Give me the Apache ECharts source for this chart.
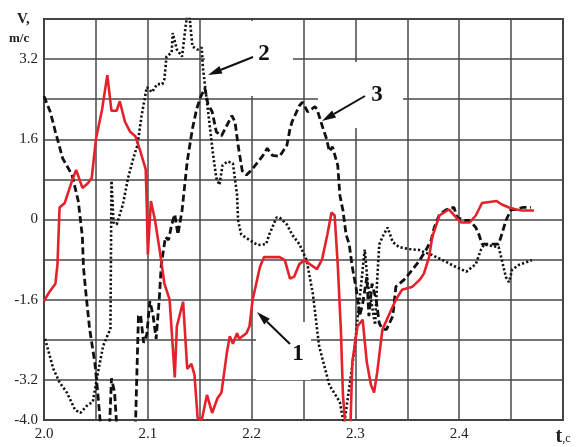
<!DOCTYPE html>
<html><head><meta charset="utf-8">
<script src="https://cdn.jsdelivr.net/npm/echarts@6/dist/echarts.min.js"></script>
<style>html,body{margin:0;padding:0;background:#fff}#c{width:579px;height:447px}</style>
</head><body><div id="c"></div>
<script>
// Curve 1 (red, solid)
const redT = [2.000,2.005,2.011,2.013,2.015,2.020,2.027,2.031,2.037,2.042,2.046,2.050,2.056,2.061,2.065,2.070,2.073,2.078,2.083,2.088,2.092,2.098,2.099,2.100,2.103,2.107,2.112,2.116,2.121,2.126,2.128,2.134,2.138,2.142,2.145,2.148,2.152,2.157,2.162,2.167,2.171,2.176,2.179,2.182,2.186,2.188,2.195,2.198,2.201,2.208,2.212,2.227,2.232,2.237,2.241,2.246,2.251,2.256,2.263,2.268,2.273,2.277,2.280,2.283,2.286,2.288,2.291,2.295,2.297,2.302,2.307,2.311,2.315,2.318,2.321,2.326,2.333,2.339,2.345,2.355,2.362,2.366,2.371,2.374,2.381,2.390,2.397,2.402,2.410,2.416,2.422,2.436,2.441,2.448,2.455,2.461,2.472];
const redV = [-1.63,-1.45,-1.28,-0.89,0.24,0.33,0.77,0.99,0.63,0.72,0.83,1.6,2.2,2.88,2.17,2.17,2.36,1.95,1.75,1.66,1.42,1.0,0.3,-0.7,0.37,-0.02,-0.69,-1.28,-1.6,-3.15,-2.13,-1.64,-2.98,-2.88,-3.1,-3.96,-4.0,-3.5,-3.86,-3.57,-3.45,-2.68,-2.33,-2.48,-2.27,-2.38,-2.27,-2.13,-1.6,-0.95,-0.75,-0.75,-0.81,-1.18,-1.14,-0.89,-0.81,-0.89,-0.99,-0.79,-0.3,0.14,0.08,-0.9,-2.2,-3.5,-4.3,-4.3,-2.85,-2.13,-2.0,-2.85,-3.3,-3.45,-3.05,-2.2,-1.87,-1.6,-1.4,-1.34,-1.2,-1.08,-0.75,-0.35,0.08,0.2,0.04,-0.06,-0.06,0.08,0.33,0.37,0.3,0.24,0.2,0.18,0.18];
// Curve 2 (dotted)
const dotT = [2.001,2.009,2.015,2.022,2.030,2.035,2.042,2.047,2.052,2.057,2.062,2.064,2.065,2.067,2.070,2.076,2.081,2.086,2.090,2.094,2.099,2.104,2.109,2.114,2.116,2.118,2.123,2.124,2.128,2.133,2.136,2.138,2.140,2.143,2.148,2.152,2.153,2.157,2.160,2.163,2.166,2.169,2.172,2.177,2.182,2.186,2.187,2.190,2.198,2.206,2.214,2.217,2.224,2.227,2.234,2.239,2.246,2.253,2.259,2.265,2.275,2.285,2.289,2.294,2.299,2.304,2.309,2.312,2.315,2.319,2.321,2.323,2.326,2.331,2.336,2.342,2.352,2.362,2.366,2.374,2.384,2.397,2.407,2.416,2.421,2.424,2.438,2.441,2.445,2.448,2.451,2.458,2.470];
const dotV = [-2.38,-2.98,-3.25,-3.45,-3.8,-3.86,-3.7,-3.64,-3.05,-2.52,-2.27,-2.2,0.77,-0.06,-0.1,0.3,0.83,1.22,1.48,2.07,2.64,2.54,2.7,2.7,2.8,3.25,3.33,3.72,3.39,3.25,3.78,4.1,4.1,3.45,3.39,3.43,3.05,2.34,1.81,1.28,0.83,0.69,1.08,1.16,1.12,0.49,-0.02,-0.3,-0.41,-0.51,-0.49,-0.3,0.04,0.04,-0.1,-0.3,-0.49,-0.81,-1.48,-2.52,-3.31,-3.64,-4.1,-3.37,-2.6,-1.6,-0.6,-1.3,-1.6,-2.1,-1.2,-0.5,-0.35,-0.16,-0.45,-0.55,-0.59,-0.61,-0.65,-0.71,-0.81,-0.95,-1.04,-0.89,-0.6,-0.5,-0.55,-0.8,-1.15,-1.25,-1.0,-0.9,-0.81];
// Curve 3 (dashed)
const dashT = [2.000,2.006,2.011,2.018,2.027,2.033,2.037,2.038,2.041,2.044,2.049,2.052,2.054,2.058,2.063,2.065,2.068,2.070,2.073,2.079,2.083,2.088,2.091,2.093,2.096,2.099,2.102,2.105,2.108,2.111,2.113,2.117,2.120,2.123,2.126,2.129,2.133,2.138,2.143,2.147,2.151,2.155,2.158,2.162,2.166,2.171,2.176,2.181,2.184,2.187,2.191,2.195,2.200,2.205,2.211,2.215,2.220,2.227,2.234,2.237,2.239,2.246,2.249,2.254,2.261,2.263,2.268,2.272,2.275,2.278,2.283,2.285,2.288,2.291,2.294,2.297,2.301,2.304,2.307,2.311,2.313,2.316,2.320,2.323,2.326,2.330,2.336,2.339,2.347,2.355,2.362,2.368,2.373,2.376,2.381,2.388,2.395,2.398,2.405,2.410,2.416,2.419,2.422,2.438,2.441,2.445,2.450,2.455,2.461,2.469];
const dashV = [2.46,2.15,1.75,1.22,0.89,0.37,-0.35,-0.95,-1.6,-2.19,-2.86,-3.5,-4.0,-4.4,-4.2,-3.17,-3.45,-4.1,-4.3,-4.1,-4.3,-4.2,-1.93,-1.9,-2.46,-2.3,-1.63,-1.9,-2.38,-1.6,-0.9,-0.35,-0.41,-0.1,0.1,-0.3,0.18,1.16,1.81,2.2,2.45,2.62,2.3,2.15,1.75,1.67,1.87,2.07,1.95,1.48,0.97,0.89,0.99,1.12,1.28,1.42,1.28,1.26,1.48,1.81,1.95,2.27,2.34,2.15,2.25,2.2,1.87,1.62,1.36,1.45,1.08,0.49,0.18,-0.3,-0.49,-0.95,-1.4,-1.93,-1.68,-1.15,-1.93,-1.28,-1.6,-2.07,-2.19,-2.19,-1.93,-1.34,-1.2,-1.0,-0.81,-0.61,-0.41,-0.16,0.1,0.2,0.24,0.04,-0.02,-0.02,-0.16,-0.3,-0.49,-0.49,-0.3,-0.02,0.2,0.2,0.24,0.24];

const xTickLabels = ['2.0','2.1','2.2','2.3','2.4'];
const yTickLabels = ['-4.0','-3.2','-1.6','0','1.6','3.2'];
const xName = 't';
const xUnit = ',c';
const yName = 'V,';
const yUnit = 'm/c';
const curveLabels = ['1','2','3'];

function pairs(t, v){ return t.map((x,i)=>[x, v[i]]); }

const FONT = '"Liberation Serif","DejaVu Serif",serif';

function arrow(x1,y1,x2,y2){
  const dx=x2-x1, dy=y2-y1, L=Math.hypot(dx,dy), ux=dx/L, uy=dy/L;
  const hl=14, hw=4;
  const bx=x2-ux*hl, by=y2-uy*hl;
  return [
    {type:'line', z:10, shape:{x1:x1,y1:y1,x2:bx,y2:by}, style:{stroke:'#111',lineWidth:2}},
    {type:'polygon', z:10, shape:{points:[[x2,y2],[bx-uy*hw,by+ux*hw],[bx+uy*hw,by-ux*hw]]}, style:{fill:'#111'}}
  ];
}

const chart = echarts.init(document.getElementById('c'), null, {renderer:'canvas'});
const option = {
  animation:false,
  backgroundColor:'#fff',
  grid:{left:44, top:19, right:16, bottom:22, show:true, borderColor:'#3a3a3a', borderWidth:2, backgroundColor:'transparent'},
  xAxis:{
    type:'value', min:2.0, max:2.5, interval:0.05,
    axisLine:{show:false}, axisTick:{show:false},
    splitLine:{show:true, lineStyle:{color:'#484848', width:1.5}},
    axisLabel:{
      margin:7, color:'#222', fontFamily:FONT, fontSize:15, showMaxLabel:true, showMinLabel:true,
      formatter:function(v){
        const r=Math.round(v*100);
        if(r===250) return '{t|'+xName+'}{c|'+xUnit+'}';
        if(r%10===0){ const s=(r/100).toFixed(1); return xTickLabels.includes(s)?s:''; }
        return '';
      },
      rich:{t:{fontFamily:FONT,fontSize:20,fontWeight:'bold',color:'#222'},c:{fontFamily:FONT,fontSize:12,color:'#222',padding:[4,0,0,0]}}
    }
  },
  yAxis:{
    type:'value', min:-4, max:4, interval:0.8,
    axisLine:{show:false}, axisTick:{show:false},
    splitLine:{show:true, lineStyle:{color:'#484848', width:1.5}},
    axisLabel:{
      margin:6, color:'#222', fontFamily:FONT, fontSize:15,
      formatter:function(v){
        const r=Math.round(v*10);
        const s = r===0 ? '0' : (r/10).toFixed(1);
        return yTickLabels.includes(s)?s:'';
      }
    }
  },
  series:[
    {type:'line', name:curveLabels[1], data:pairs(dotT,dotV), showSymbol:false, clip:true, z:3,
     lineStyle:{color:'#111', width:2.6, type:[2.2,2.2]}},
    {type:'line', name:curveLabels[2], data:pairs(dashT,dashV), showSymbol:false, clip:true, z:4,
     lineStyle:{color:'#111', width:2.8, type:[7,3.5]}},
    {type:'line', name:curveLabels[0], data:pairs(redT,redV), showSymbol:false, clip:true, z:5,
     lineStyle:{color:'#e3222b', width:2.6}}
  ],
  graphic:[
    {type:'rect', z:1, shape:{x:205,y:21,width:88,height:75}, style:{fill:'#fff'}},
    {type:'rect', z:1, shape:{x:318,y:62,width:85,height:66}, style:{fill:'#fff'}},
    {type:'rect', z:1, shape:{x:256,y:322,width:55,height:58}, style:{fill:'#fff'}},
    {type:'text', z:10, style:{text:yName, x:17, y:12, font:'bold 15px '+FONT, fill:'#222'}},
    {type:'text', z:10, style:{text:yUnit, x:9, y:32, font:'bold 13px '+FONT, fill:'#222'}},
    {type:'text', z:10, style:{text:curveLabels[1], x:264, y:54, textAlign:'center', textVerticalAlign:'middle', font:'bold 23px '+FONT, fill:'#111'}},
    {type:'text', z:10, style:{text:curveLabels[2], x:377, y:95, textAlign:'center', textVerticalAlign:'middle', font:'bold 23px '+FONT, fill:'#111'}},
    {type:'text', z:10, style:{text:curveLabels[0], x:298, y:354, textAlign:'center', textVerticalAlign:'middle', font:'bold 23px '+FONT, fill:'#111'}}
  ].concat(arrow(253,57,208,75), arrow(365,96,322,121), arrow(290,344,257,312))
};
chart.setOption(option);
</script>
</body></html>
